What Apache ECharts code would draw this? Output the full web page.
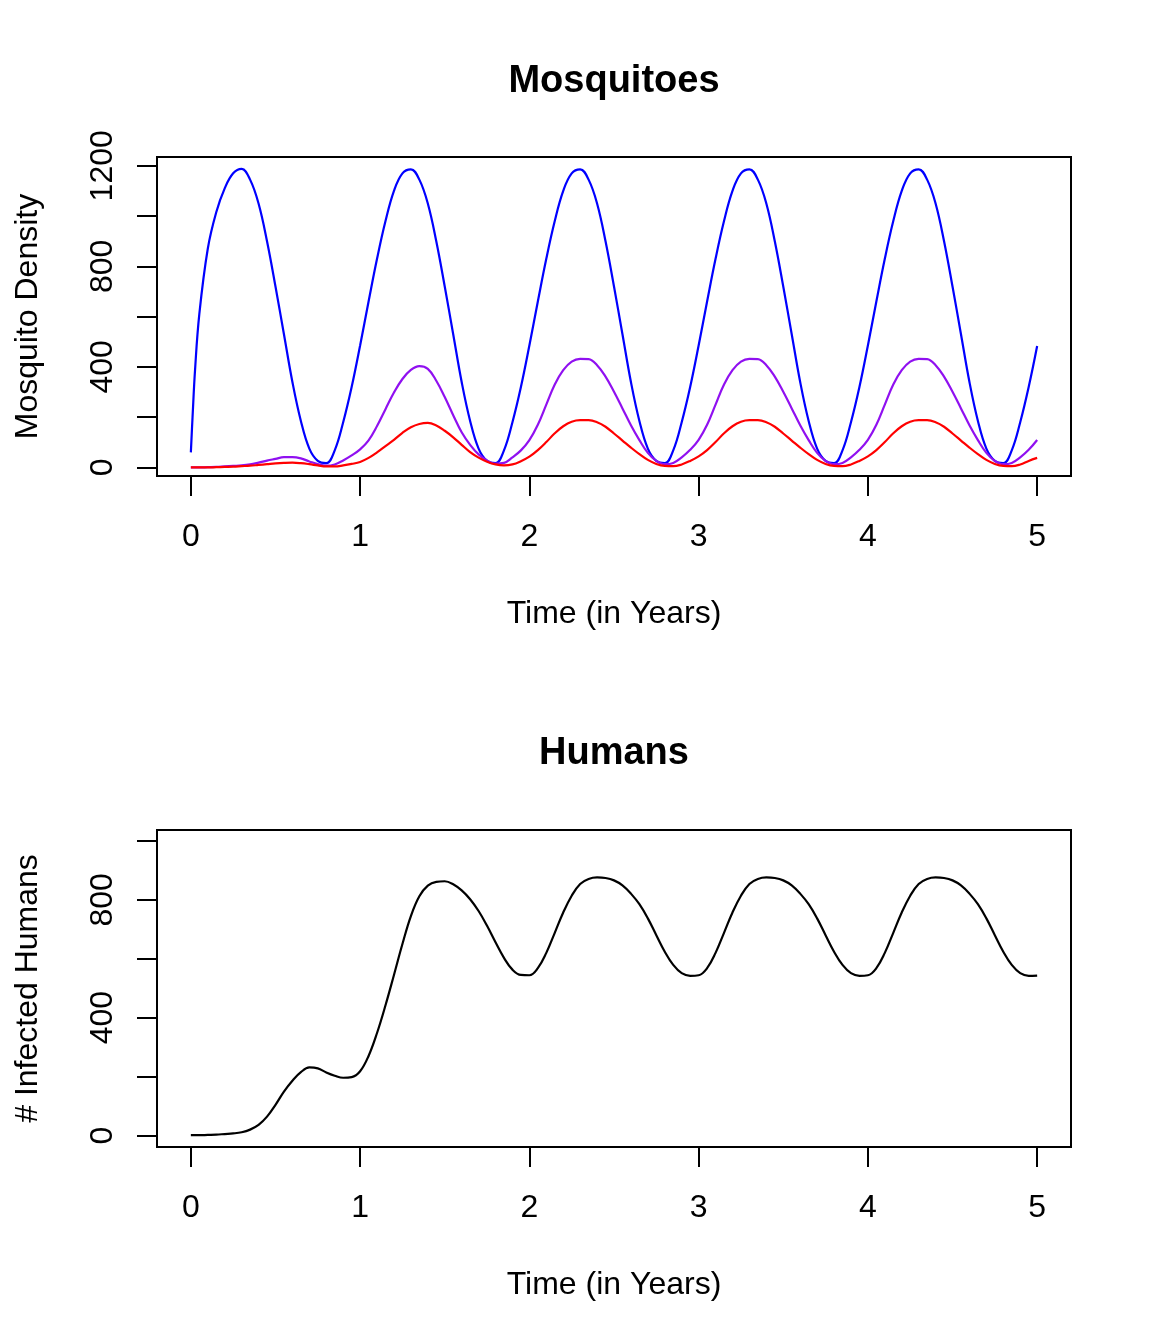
<!DOCTYPE html>
<html>
<head>
<meta charset="utf-8">
<script src="https://cdn.jsdelivr.net/npm/echarts@6/dist/echarts.min.js"></script>
<style>
  html, body { margin: 0; padding: 0; background: #fff; }
  #chart { width: 1152px; height: 1344px; }
</style>
</head>
<body>
<div id="chart"></div>
<script>
// time points (years)
var TIMES = [
  0, 0.01, 0.025, 0.05, 0.1, 0.15, 0.2, 0.25, 0.3, 0.35, 0.4, 0.45, 0.5, 0.55, 0.6, 0.65, 0.7, 0.75, 0.8, 0.85, 0.9, 0.95,
  1, 1.05, 1.1, 1.15, 1.2, 1.25, 1.3, 1.35, 1.4, 1.45, 1.5, 1.55, 1.6, 1.65, 1.7, 1.75, 1.8, 1.85, 1.9, 1.95,
  2, 2.05, 2.1, 2.15, 2.2, 2.25, 2.3, 2.35, 2.4, 2.45, 2.5, 2.55, 2.6, 2.65, 2.7, 2.75, 2.8, 2.85, 2.9, 2.95,
  3, 3.05, 3.1, 3.15, 3.2, 3.25, 3.3, 3.35, 3.4, 3.45, 3.5, 3.55, 3.6, 3.65, 3.7, 3.75, 3.8, 3.85, 3.9, 3.95,
  4, 4.05, 4.1, 4.15, 4.2, 4.25, 4.3, 4.35, 4.4, 4.45, 4.5, 4.55, 4.6, 4.65, 4.7, 4.75, 4.8, 4.85, 4.9, 4.95,
  5
];

// mosquitoes (blue / purple / red)
var mosqTotal = [
  60, 200, 390, 610, 870, 1015, 1110, 1170, 1188, 1145, 1050, 900, 720, 530, 340, 185, 75, 26, 17, 68, 180, 320,
  485, 660, 830, 980, 1100, 1170, 1186, 1145, 1050, 900, 720, 530, 340, 185, 75, 26, 17, 68, 180, 320,
  485, 660, 830, 980, 1100, 1170, 1186, 1145, 1050, 900, 720, 530, 340, 185, 75, 26, 17, 68, 180, 320,
  485, 660, 830, 980, 1100, 1170, 1186, 1145, 1050, 900, 720, 530, 340, 185, 75, 26, 17, 68, 180, 320,
  485, 660, 830, 980, 1100, 1170, 1186, 1145, 1050, 900, 720, 530, 340, 185, 75, 26, 17, 68, 180, 320,
  483
];
var mosqExposed = [
  0, 0, 0, 0, 1, 2, 4, 6, 8, 12, 19, 27, 34, 41, 41, 36, 24, 13, 7, 12, 28, 48,
  72, 108, 165, 232, 298, 352, 388, 403, 392, 345, 280, 208, 140, 90, 52, 28, 15, 18, 40, 68,
  109, 170, 250, 330, 387, 421, 432, 431, 407, 361, 301, 235, 168, 109, 58, 26, 13, 18, 40, 70,
  110, 170, 250, 330, 387, 421, 432, 431, 407, 361, 301, 235, 168, 109, 58, 26, 13, 18, 40, 70,
  110, 170, 250, 330, 387, 421, 432, 431, 407, 361, 301, 235, 168, 109, 58, 26, 13, 18, 40, 70,
  109
];
var mosqInfectious = [
  0, 0, 0, 0, 0, 1, 2, 3, 5, 7, 10, 13, 16, 18, 19, 17, 13, 8, 4, 4, 8, 14,
  22, 38, 60, 85, 110, 138, 160, 173, 177, 167, 146, 120, 90, 61, 39, 23, 12, 8, 12, 25,
  43, 69, 101, 136, 164, 182, 188, 188, 180, 162, 135, 107, 79, 53, 30, 14, 6, 5, 12, 26,
  44, 69, 101, 136, 164, 182, 188, 188, 180, 162, 135, 107, 79, 53, 30, 14, 6, 5, 12, 26,
  44, 69, 101, 136, 164, 182, 188, 188, 180, 162, 135, 107, 79, 53, 30, 14, 6, 5, 12, 26,
  38
];

// infected humans
var humansInfected = [
  1, 1, 1, 1, 2, 3, 5, 7, 11, 20, 36, 64, 104, 149, 186, 215, 231, 228, 214, 203, 196, 198,
  218, 270, 348, 442, 545, 650, 745, 812, 848, 861, 863, 853, 832, 802, 762, 712, 656, 603, 563, 545,
  544, 568, 620, 688, 757, 814, 854, 871, 876, 874, 866, 849, 821, 785, 737, 680, 624, 579, 551, 542,
  544, 568, 620, 688, 757, 814, 854, 871, 876, 874, 866, 849, 821, 785, 737, 680, 624, 579, 551, 542,
  544, 568, 620, 688, 757, 814, 854, 871, 876, 874, 866, 849, 821, 785, 737, 680, 624, 579, 551, 542,
  543
];

// ticks and labels
var xTicks = [0, 1, 2, 3, 4, 5];
var yTicksMosq = [0, 200, 400, 600, 800, 1000, 1200];
var yLabelsMosq = [0, 400, 800, 1200];
var yTicksHum = [0, 200, 400, 600, 800, 1000];
var yLabelsHum = [0, 400, 800];

function pairs(vals) {
    return TIMES.map(function (t, i) { return [t, vals[i]]; });
}

var FONT = 'Liberation Sans, Arial, Helvetica, sans-serif';

function plain(v) { return String(v); }

function xAxisFor(gridIndex) {
    return {
        type: 'value', gridIndex: gridIndex,
        min: -0.2, max: 5.2,
        name: 'Time (in Years)', nameLocation: 'middle', nameGap: 122,
        nameTextStyle: { fontFamily: FONT, fontSize: 32, color: '#000' },
        axisLine: { show: false, onZero: false },
        axisTick: { show: true, inside: false, length: 20, customValues: xTicks,
            lineStyle: { color: '#000', width: 2 } },
        axisLabel: { customValues: xTicks, margin: 45, formatter: plain,
            fontFamily: FONT, fontSize: 32, color: '#000' },
        splitLine: { show: false }
    };
}

function yAxisFor(gridIndex, name, min, max, ticks, labels) {
    return {
        type: 'value', gridIndex: gridIndex,
        min: min, max: max,
        name: name, nameLocation: 'middle', nameGap: 113, nameRotate: 90,
        nameTextStyle: { fontFamily: FONT, fontSize: 32, color: '#000' },
        axisLine: { show: false, onZero: false },
        axisTick: { show: true, inside: false, length: 20, customValues: ticks,
            lineStyle: { color: '#000', width: 2 } },
        axisLabel: { customValues: labels, rotate: 90, margin: 38, formatter: plain,
            fontFamily: FONT, fontSize: 32, color: '#000' },
        splitLine: { show: false }
    };
}

function lineSeries(name, xi, vals, color) {
    return {
        name: name, type: 'line', xAxisIndex: xi, yAxisIndex: xi,
        data: pairs(vals), showSymbol: false, symbol: 'none',
        smooth: 0.4,
        lineStyle: { color: color, width: 2.2 }
    };
}

var chart = echarts.init(document.getElementById('chart'), null, { renderer: 'canvas' });
chart.setOption({
    animation: false,
    backgroundColor: '#fff',
    title: [
        { text: 'Mosquitoes', left: 614, top: 82, textAlign: 'center', textVerticalAlign: 'middle', padding: 0,
          textStyle: { fontFamily: FONT, fontSize: 38, fontWeight: 'bold', color: '#000' } },
        { text: 'Humans', left: 614, top: 754, textAlign: 'center', textVerticalAlign: 'middle', padding: 0,
          textStyle: { fontFamily: FONT, fontSize: 38, fontWeight: 'bold', color: '#000' } }
    ],
    grid: [
        { left: 157, top: 157, width: 914, height: 319, show: true,
          borderColor: '#000', borderWidth: 2, backgroundColor: 'transparent' },
        { left: 157, top: 830, width: 914, height: 317, show: true,
          borderColor: '#000', borderWidth: 2, backgroundColor: 'transparent' }
    ],
    xAxis: [xAxisFor(0), xAxisFor(1)],
    yAxis: [
        yAxisFor(0, 'Mosquito Density', -34, 1235, yTicksMosq, yLabelsMosq),
        yAxisFor(1, '# Infected Humans', -39, 1037, yTicksHum, yLabelsHum)
    ],
    series: [
        lineSeries('Total', 0, mosqTotal, '#0000ff'),
        lineSeries('Exposed', 0, mosqExposed, '#9010f0'),
        lineSeries('Infectious', 0, mosqInfectious, '#ff0000'),
        lineSeries('Infected Humans', 1, humansInfected, '#000000')
    ]
});
</script>
</body>
</html>
